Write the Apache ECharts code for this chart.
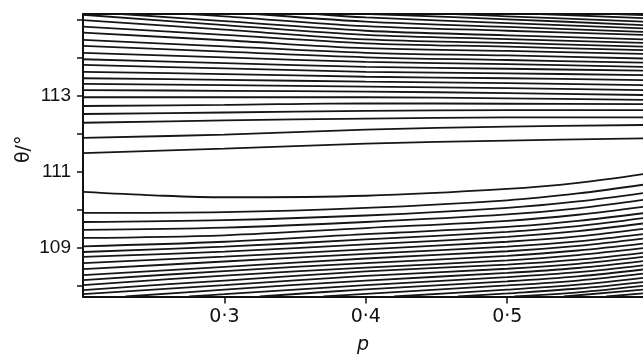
<!DOCTYPE html>
<html>
<head>
<meta charset="utf-8">
<script src="https://cdn.jsdelivr.net/npm/echarts@6/dist/echarts.min.js"></script>
<style>
  html, body { margin: 0; padding: 0; background: #fff; }
  #chart { width: 643px; height: 355px; }
</style>
</head>
<body>
<div id="chart"></div>
<script>
// p columns where the full-width contours were read
const upperCols = [0.2, 0.3, 0.4, 0.5, 0.596];
const lowerCols = [0.2, 0.3, 0.4, 0.5, 0.55, 0.596];

// upper family (theta at upperCols), bottom to top
const upperLines = [
  [111.48, 111.60, 111.73, 111.81, 111.87],
  [111.88, 111.97, 112.10, 112.18, 112.22],
  [112.28, 112.34, 112.39, 112.42, 112.42],
  [112.51, 112.55, 112.59, 112.61, 112.61],
  [112.72, 112.75, 112.79, 112.78, 112.77],
  [112.95, 112.95, 112.95, 112.92, 112.88],
  [113.14, 113.12, 113.10, 113.06, 113.01],
  [113.30, 113.27, 113.23, 113.19, 113.14],
  [113.45, 113.41, 113.36, 113.32, 113.27],
  [113.62, 113.56, 113.49, 113.45, 113.40],
  [113.80, 113.71, 113.62, 113.58, 113.53],
  [113.95, 113.85, 113.75, 113.70, 113.65],
  [114.12, 114.00, 113.88, 113.82, 113.75],
  [114.30, 114.15, 114.00, 113.93, 113.86],
  [114.46, 114.29, 114.12, 114.05, 113.97],
  [114.65, 114.45, 114.24, 114.17, 114.09],
  [114.81, 114.59, 114.37, 114.28, 114.19],
  [114.98, 114.73, 114.47, 114.38, 114.28]
];

// contours coming in through the top border: [p, theta] pairs
const topLines = [
  [[0.2, 115.12], [0.3, 114.85], [0.4, 114.59], [0.5, 114.48], [0.596, 114.38]],
  [[0.227, 115.14], [0.3, 114.95], [0.4, 114.70], [0.5, 114.58], [0.596, 114.47]],
  [[0.275, 115.14], [0.3, 115.08], [0.4, 114.82], [0.5, 114.70], [0.596, 114.59]],
  [[0.322, 115.14], [0.4, 114.94], [0.5, 114.80], [0.596, 114.67]],
  [[0.365, 115.14], [0.4, 115.05], [0.5, 114.90], [0.596, 114.76]],
  [[0.403, 115.14], [0.5, 115.00], [0.596, 114.85]],
  [[0.463, 115.14], [0.5, 115.08], [0.596, 114.94]],
  [[0.523, 115.14], [0.596, 115.03]],
  [[0.576, 115.14], [0.596, 115.11]]
];

// the contour just under the white valley
const valleyLine = [[0.2, 110.46], [0.25, 110.37], [0.3, 110.32], [0.4, 110.36], [0.5, 110.54], [0.55, 110.70], [0.596, 110.93]];

// lower family (theta at lowerCols), top to bottom
const lowerLines = [
  [109.91, 109.93, 110.04, 110.24, 110.42, 110.65],
  [109.67, 109.72, 109.84, 110.04, 110.21, 110.43],
  [109.46, 109.52, 109.67, 109.87, 110.03, 110.25],
  [109.25, 109.32, 109.51, 109.70, 109.86, 110.07],
  [109.03, 109.15, 109.35, 109.54, 109.70, 109.90],
  [108.88, 109.02, 109.21, 109.41, 109.56, 109.77],
  [108.75, 108.89, 109.08, 109.28, 109.43, 109.63],
  [108.59, 108.76, 108.95, 109.15, 109.29, 109.49],
  [108.43, 108.63, 108.83, 109.02, 109.16, 109.35],
  [108.27, 108.49, 108.71, 108.90, 109.04, 109.23],
  [108.14, 108.38, 108.59, 108.78, 108.92, 109.10],
  [108.01, 108.26, 108.47, 108.66, 108.80, 108.98],
  [107.88, 108.13, 108.37, 108.55, 108.68, 108.86],
  [107.77, 108.01, 108.25, 108.44, 108.57, 108.75]
];

// contours coming in through the bottom border: [p, theta] pairs
const bottomLines = [
  [[0.23, 107.71], [0.3, 107.89], [0.4, 108.13], [0.5, 108.33], [0.55, 108.46], [0.596, 108.64]],
  [[0.275, 107.71], [0.3, 107.77], [0.4, 108.01], [0.5, 108.22], [0.55, 108.35], [0.596, 108.53]],
  [[0.325, 107.71], [0.4, 107.90], [0.5, 108.11], [0.55, 108.24], [0.596, 108.42]],
  [[0.37, 107.71], [0.4, 107.78], [0.5, 108.00], [0.55, 108.13], [0.596, 108.31]],
  [[0.42, 107.71], [0.5, 107.89], [0.55, 108.02], [0.596, 108.20]],
  [[0.465, 107.71], [0.5, 107.79], [0.55, 107.92], [0.596, 108.09]],
  [[0.505, 107.71], [0.55, 107.82], [0.596, 107.99]],
  [[0.54, 107.71], [0.596, 107.89]],
  [[0.57, 107.71], [0.596, 107.79]]
];

const xTicks = [0.3, 0.4, 0.5];
const yTicks = [108, 109, 110, 111, 112, 113, 114, 115];
const yLabels = [109, 111, 113];

const pMin = 0.2, pMax = 0.596;
const thetaMin = 107.71, thetaMax = 115.14;

const zip = (cols, vals) => vals.map((v, i) => [cols[i], v]);

const allLines = [
  ...upperLines.map(v => zip(upperCols, v)),
  ...topLines,
  valleyLine,
  ...lowerLines.map(v => zip(lowerCols, v)),
  ...bottomLines
];

const lineColor = '#161616';

const chart = echarts.init(document.getElementById('chart'));

chart.setOption({
  animation: false,
  backgroundColor: '#fff',
  grid: { left: 83, right: 0, top: 14, bottom: 58.5, containLabel: false, outerBoundsMode: 'none' },
  xAxis: [
    {
      type: 'value', min: pMin, max: pMax, position: 'bottom',
      name: 'p', nameLocation: 'middle', nameGap: 39, nameMoveOverlap: false,
      nameTextStyle: { fontFamily: 'DejaVu Sans', fontStyle: 'italic', fontSize: 19, color: '#111' },
      axisLine: { show: true, onZero: false, lineStyle: { color: '#111', width: 2 } },
      axisTick: { show: true, customValues: xTicks, length: 7, lineStyle: { color: '#111', width: 1.5 } },
      axisLabel: {
        customValues: xTicks, margin: 11,
        fontFamily: 'DejaVu Sans', fontSize: 19, color: '#111',
        formatter: v => v.toFixed(1).replace('.', '\u00b7')
      },
      splitLine: { show: false }
    },
    {
      type: 'value', min: pMin, max: pMax, position: 'top',
      axisLine: { show: true, onZero: false, lineStyle: { color: '#111', width: 2 } },
      axisTick: { show: false }, axisLabel: { show: false }, splitLine: { show: false }
    }
  ],
  yAxis: {
    type: 'value', min: thetaMin, max: thetaMax,
    name: '\u03b8/\u00b0', nameLocation: 'middle', nameGap: 49, nameRotate: 90, nameMoveOverlap: false,
    nameTextStyle: { fontFamily: 'DejaVu Sans', fontSize: 19, color: '#111', padding: [0, 0, 0, 12] },
    axisLine: { show: true, onZero: false, lineStyle: { color: '#111', width: 2 } },
    axisTick: { show: true, customValues: yTicks, length: 6, lineStyle: { color: '#111', width: 1.5 } },
    axisLabel: {
      customValues: yLabels, margin: 12,
      fontFamily: 'Liberation Sans', fontSize: 19, color: '#111'
    },
    splitLine: { show: false }
  },
  series: allLines.map(pts => ({
    type: 'line',
    data: pts,
    smooth: 0.35,
    symbol: 'none',
    clip: true,
    silent: true,
    lineStyle: { color: lineColor, width: 1.8 }
  }))
});
</script>
</body>
</html>
